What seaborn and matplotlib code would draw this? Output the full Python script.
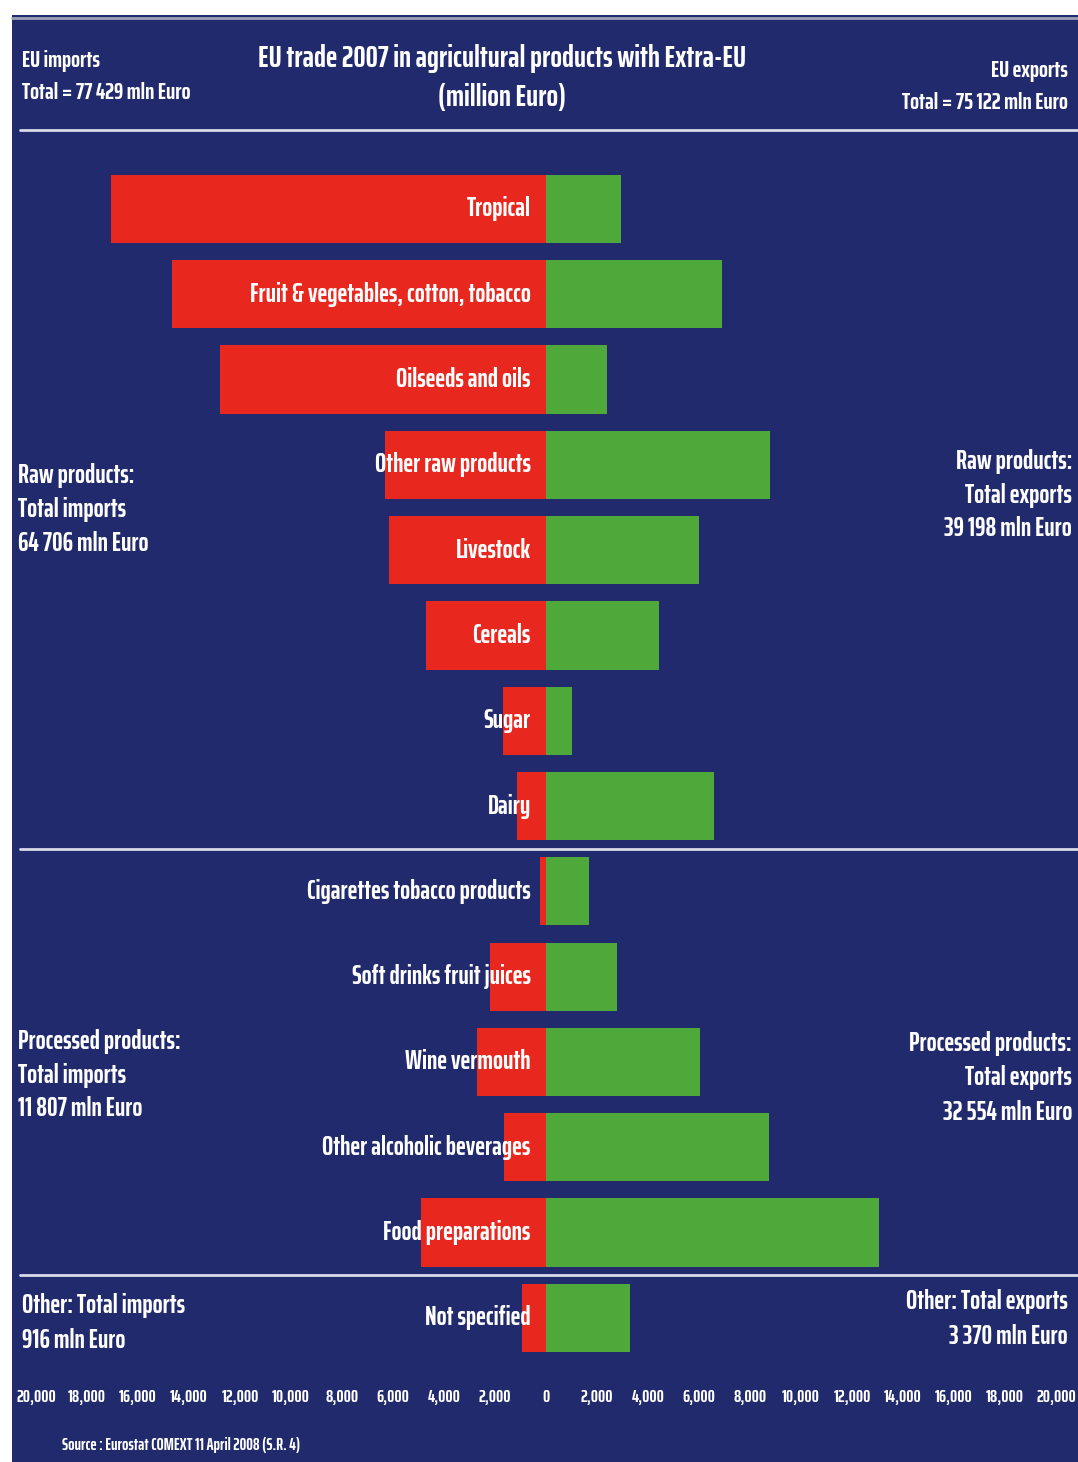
import matplotlib
matplotlib.use("Agg")
import matplotlib.pyplot as plt
import seaborn as sns
import pandas as pd
from matplotlib.patches import Rectangle
from matplotlib.lines import Line2D

categories = ["Tropical", "Fruit & vegetables, cotton, tobacco", "Oilseeds and oils",
              "Other raw products", "Livestock", "Cereals", "Sugar", "Dairy",
              "Cigarettes tobacco products", "Soft drinks fruit juices", "Wine vermouth",
              "Other alcoholic beverages", "Food preparations", "Not specified"]
imports = [17050, 14650, 12800, 6300, 6150, 4700, 1700, 1130, 250, 2200, 2700, 1650, 4900, 950]
exports = [2950, 6900, 2400, 8800, 6000, 4450, 1000, 6600, 1700, 2800, 6050, 8750, 13050, 3300]
tick_values = [-20000, -18000, -16000, -14000, -12000, -10000, -8000, -6000, -4000, -2000,
               0, 2000, 4000, 6000, 8000, 10000, 12000, 14000, 16000, 18000, 20000]
tick_labels = ["20,000", "18,000", "16,000", "14,000", "12,000", "10,000", "8,000", "6,000",
               "4,000", "2,000", "0", "2,000", "4,000", "6,000", "8,000", "10,000", "12,000",
               "14,000", "16,000", "18,000", "20,000"]

NAVY = "#212a6c"
RED = "#e8271f"
GREEN = "#4ea83a"

sns.set_theme(style="white")
FONT = ["Saira ExtraCondensed", "DejaVu Sans"]
plt.rcParams["font.family"] = FONT
plt.rcParams["font.weight"] = "bold"

W, H = 1078, 1462
fig = plt.figure(figsize=(W / 100, H / 100), dpi=100)
fig.patch.set_facecolor("white")
fig.add_artist(Rectangle((12 / W, 0), 1 - 12 / W, 1 - 15 / H, transform=fig.transFigure,
                         facecolor=NAVY, edgecolor="none", zorder=-10))

def fx(px):
    return px / W

def fy(py):
    return 1 - py / H

# axes: x from 36 to 1056 px, y from 130 to 1375 px
ax = fig.add_axes([fx(36), fy(1375), fx(1056) - fx(36), fy(130) - fy(1375)])
ax.set_facecolor("none")

df = pd.DataFrame({"cat": categories,
                   "imp": [-v for v in imports],
                   "exp": exports})
sns.barplot(data=df, x="imp", y="cat", order=categories, color=RED, saturation=1,
            width=0.8, ax=ax, orient="h")
sns.barplot(data=df, x="exp", y="cat", order=categories, color=GREEN, saturation=1,
            width=0.8, ax=ax, orient="h")
for p in ax.patches:
    p.set_edgecolor("none")

ax.set_xlim(-20000, 20000)
ax.set_ylim(13.67, -0.926)
ax.set_xticks(tick_values)
ax.set_xticklabels(tick_labels, color="white", fontsize=13, fontweight="bold")
ax.tick_params(axis="x", length=0, pad=10)
ax.set_yticks([])
ax.set_xlabel("")
ax.set_ylabel("")
for s in ax.spines.values():
    s.set_visible(False)

for i, c in enumerate(categories):
    ax.text(-600, i, c, ha="right", va="center", color="white", fontsize=19,
            fontweight="bold", zorder=5)

# separators
for yv in [7.5, 12.5]:
    ax.axhline(yv, xmin=-0.016, xmax=1.03, color="#d8dbe8", lw=2, clip_on=False)
fig.add_artist(Line2D([fx(20), fx(1078)], [fy(130), fy(130)], color="#d8dbe8", lw=2,
                      transform=fig.transFigure))
fig.add_artist(Line2D([fx(12), fx(1078)], [fy(18), fy(18)], color="#9aa0b8", lw=2,
                      transform=fig.transFigure))

kw = dict(color="white", fontweight="bold", fontsize=19, transform=fig.transFigure,
          linespacing=1.45)
fig.text(fx(22), fy(77), "EU imports\nTotal = 77 429 mln Euro", ha="left", va="center",
         **{**kw, "fontsize": 17, "linespacing": 1.6})
fig.text(fx(502), fy(78), "EU trade 2007 in agricultural products with Extra-EU\n(million Euro)",
         ha="center", va="center", **{**kw, "fontsize": 22, "linespacing": 1.4})
fig.text(fx(1068), fy(87), "EU exports\nTotal = 75 122 mln Euro", ha="right", va="center",
         **{**kw, "fontsize": 17, "linespacing": 1.6})

fig.text(fx(18), fy(509), "Raw products:\nTotal imports\n64 706 mln Euro", ha="left",
         va="center", **kw)
fig.text(fx(1072), fy(495), "Raw products:\nTotal exports\n39 198 mln Euro", ha="right",
         va="center", **kw)
fig.text(fx(18), fy(1075), "Processed products:\nTotal imports\n11 807 mln Euro", ha="left",
         va="center", **kw)
fig.text(fx(1072), fy(1078), "Processed products:\nTotal exports\n32 554 mln Euro", ha="right",
         va="center", **kw)
fig.text(fx(22), fy(1323), "Other: Total imports\n916 mln Euro", ha="left", va="center", **kw)
fig.text(fx(1068), fy(1319), "Other: Total exports\n3 370 mln Euro", ha="right", va="center", **kw)

fig.text(fx(62), fy(1445), "Source : Eurostat COMEXT 11 April 2008 (S.R. 4)", ha="left",
         va="center", color="white", fontsize=12, fontweight="bold", transform=fig.transFigure)

fig.savefig("out.png", dpi=100, facecolor=fig.get_facecolor())
